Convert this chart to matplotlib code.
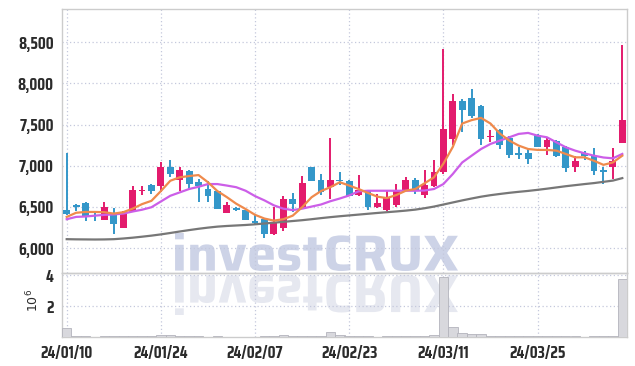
import numpy as np
import matplotlib.pyplot as plt
from matplotlib.textpath import TextPath
from matplotlib.patches import PathPatch
from matplotlib.font_manager import FontProperties
from matplotlib.transforms import Affine2D, IdentityTransform

# daily candles, 24/01/10 .. 24/04/05 (trading days)
opens = [6460, 6530, 6550, 6405, 6345, 6430, 6250, 6440, 6700, 6770,
         6760, 6990, 6827, 6940, 6805, 6717, 6690, 6430, 6490, 6465,
         6330, 6355, 6170, 6250, 6595, 6477, 6990, 6830, 6745, 6830,
         6820, 6640, 6700, 6503, 6460, 6530, 6705, 6825, 6645, 6750,
         6920, 7320, 7780, 7825, 7730, 7345, 7435, 7335, 7155, 7158,
         7375, 7230, 7305, 7230, 6990, 7150, 7120, 6950, 6990, 7275]
highs = [7160, 6535, 6555, 6455, 6560, 6490, 6450, 6755, 6750, 6775,
         7050, 7070, 6990, 6950, 6840, 6810, 6710, 6555, 6505, 6470,
         6415, 6360, 6495, 6635, 6670, 6880, 6990, 6900, 7340, 6920,
         6830, 6890, 6705, 6655, 6710, 6780, 6865, 6850, 6950, 7070,
         8420, 7875, 7810, 7935, 7735, 7435, 7440, 7365, 7230, 7205,
         7380, 7340, 7310, 7235, 7115, 7180, 7215, 6980, 7215, 8460]
lows = [6400, 6450, 6330, 6330, 6340, 6170, 6250, 6435, 6640, 6655,
        6680, 6860, 6700, 6705, 6565, 6555, 6470, 6430, 6450, 6340,
        6300, 6130, 6165, 6210, 6445, 6470, 6815, 6650, 6595, 6765,
        6630, 6635, 6465, 6485, 6455, 6505, 6690, 6655, 6605, 6745,
        6900, 7255, 7405, 7580, 7250, 7285, 7200, 7095, 7080, 7020,
        7225, 7135, 7110, 6920, 6928, 7075, 6887, 6780, 6840, 7270]
closes = [6410, 6500, 6390, 6390, 6500, 6300, 6440, 6705, 6710, 6695,
          6990, 6895, 6950, 6775, 6757, 6636, 6475, 6525, 6465, 6345,
          6310, 6170, 6318, 6595, 6535, 6790, 6818, 6685, 6830, 6810,
          6636, 6705, 6505, 6550, 6608, 6700, 6825, 6697, 6767, 6930,
          7450, 7780, 7680, 7608, 7320, 7360, 7255, 7135, 7135, 7085,
          7230, 7313, 7115, 6967, 7060, 7120, 6940, 6920, 7060, 7550]
# volume, millions of shares
volume = [0.55, 0.05, 0.04, 0.03, 0.05, 0.04, 0.05, 0.08, 0.04, 0.05,
          0.12, 0.10, 0.07, 0.05, 0.04, 0.03, 0.04, 0.03, 0.02, 0.03,
          0.03, 0.05, 0.07, 0.10, 0.04, 0.08, 0.06, 0.05, 0.30, 0.10,
          0.05, 0.04, 0.04, 0.03, 0.04, 0.05, 0.05, 0.04, 0.06, 0.10,
          3.85, 0.66, 0.28, 0.19, 0.17, 0.07, 0.06, 0.05, 0.04, 0.04,
          0.05, 0.04, 0.05, 0.06, 0.04, 0.03, 0.05, 0.06, 0.08, 3.75]
# moving averages
ma_short = [6380, 6430, 6440, 6440, 6437, 6420, 6437, 6480, 6535, 6575,
            6693, 6818, 6860, 6875, 6887, 6800, 6693, 6620, 6540, 6475,
            6405, 6360, 6335, 6352, 6395, 6497, 6618, 6693, 6740, 6800,
            6760, 6718, 6670, 6625, 6608, 6645, 6697, 6718, 6787, 6860,
            7025, 7228, 7512, 7553, 7580, 7512, 7390, 7305, 7244, 7203,
            7192, 7192, 7183, 7143, 7102, 7102, 7060, 7011, 7040, 7122]
ma_mid = [6352, 6380, 6385, 6395, 6405, 6410, 6420, 6445, 6467, 6497,
          6567, 6636, 6677, 6718, 6745, 6778, 6778, 6760, 6740, 6697,
          6632, 6580, 6520, 6480, 6462, 6480, 6505, 6530, 6570, 6603,
          6640, 6690, 6697, 6697, 6697, 6697, 6697, 6697, 6700, 6718,
          6778, 6900, 7040, 7122, 7203, 7264, 7305, 7345, 7386, 7398,
          7365, 7345, 7284, 7224, 7183, 7150, 7122, 7100, 7090, 7143]
ma_long = [6110, 6108, 6107, 6106, 6107, 6110, 6118, 6128, 6140, 6153,
           6168, 6185, 6203, 6220, 6236, 6250, 6262, 6270, 6276, 6282,
           6290, 6300, 6310, 6320, 6330, 6340, 6352, 6365, 6377, 6388,
           6398, 6408, 6418, 6428, 6437, 6446, 6456, 6468, 6485, 6505,
           6530, 6555, 6580, 6603, 6625, 6643, 6658, 6672, 6684, 6695,
           6708, 6722, 6737, 6752, 6765, 6778, 6790, 6805, 6820, 6850]
tick_pos = [0, 10, 20, 30, 40, 50]
tick_labels = ['24/01/10', '24/01/24', '24/02/07', '24/02/23', '24/03/11', '24/03/25']
price_ticks = [6000, 6500, 7000, 7500, 8000, 8500]

UP = '#e31b6d'
DOWN = '#3497c9'
FRAME = '#cccccc'
GRID = '#c4c8dc'
TXT = '#2b2b2b'
plt.rcParams['font.family'] = ['Saira Condensed', 'Saira SemiCondensed', 'DejaVu Sans']

W, H = 635, 366
fig = plt.figure(figsize=(W / 100, H / 100), dpi=100)
ax = fig.add_axes([62 / W, 1 - 273 / H, 565 / W, 264 / H])
axv = fig.add_axes([62 / W, 1 - 337 / H, 565 / W, 64 / H], sharex=ax)


def watermark(x0, y0, x1, y1, color, flip=False):
    # place text path in pixel box (top-left origin)
    tp = TextPath((0, 0), 'investCRUX', size=100,
                  prop=FontProperties(family='Saira SemiCondensed', weight='bold'))
    bb = tp.get_extents()
    sx = (x1 - x0) / bb.width
    sy = (y1 - y0) / bb.height
    if flip:
        tr = Affine2D().translate(-bb.x0, -bb.y0).scale(sx, -sy).translate(x0, H - y0)
    else:
        tr = Affine2D().translate(-bb.x0, -bb.y0).scale(sx, sy).translate(x0, H - y1)
    p = PathPatch(tr.transform_path(tp), facecolor=color, edgecolor='none',
                  transform=IdentityTransform(), zorder=-1)
    fig.add_artist(p)


watermark(175, 233, 458, 271, '#cdd3e7')
watermark(175, 275, 458, 315, '#e6e8f0', flip=True)

x = np.arange(len(closes))
o = np.array(opens)
c = np.array(closes)
cols = [UP if cc >= oo else DOWN for oo, cc in zip(opens, closes)]

ax.vlines(x, lows, highs, colors=cols, lw=1.4, zorder=3)
diff = np.abs(c - o)
body_h = np.maximum(diff, 14)
body_b = np.minimum(o, c) - (body_h - diff) / 2
ax.bar(x, body_h, bottom=body_b, width=0.72, color=cols, zorder=4)

ax.plot(x, ma_long, color='#777777', lw=1.6, zorder=5)
ax.plot(x, ma_mid, color='#cc5ee8', lw=1.6, zorder=5)
ax.plot(x, ma_short, color='#ef8a4c', lw=1.6, zorder=5)

axv.bar(x, volume, width=1.0, color='#d8d8dd', edgecolor='#b4b4bc', lw=0.6, zorder=3)

ax.set_xlim(-0.5, len(closes) - 0.5)
ax.set_ylim(5700, 8900)
axv.set_ylim(0, 4.13)

ax.set_yticks(price_ticks)
ax.set_yticklabels([f'{v:,}' for v in price_ticks])
axv.set_yticks([2, 4])
axv.set_yticklabels(['2', '4'])
axv.set_xticks(tick_pos)
axv.set_xticklabels(tick_labels)
ax.tick_params(axis='x', labelbottom=False)

for a in (ax, axv):
    a.set_facecolor('none')
    a.grid(True, ls=(0, (1, 2)), color=GRID, lw=0.9, zorder=0)
    a.set_axisbelow(True)
    a.tick_params(length=0, labelsize=12, labelcolor=TXT, pad=6)
    for s in a.spines.values():
        s.set_color(FRAME)
        s.set_linewidth(1.0)
    for lab in a.get_xticklabels() + a.get_yticklabels():
        lab.set_fontweight('bold')

fig.text(33 / W, 1 - 300 / H, r'$10^6$', rotation=90, ha='center', va='center',
         fontsize=9, color=TXT)

fig.savefig('out.png', dpi=100)
